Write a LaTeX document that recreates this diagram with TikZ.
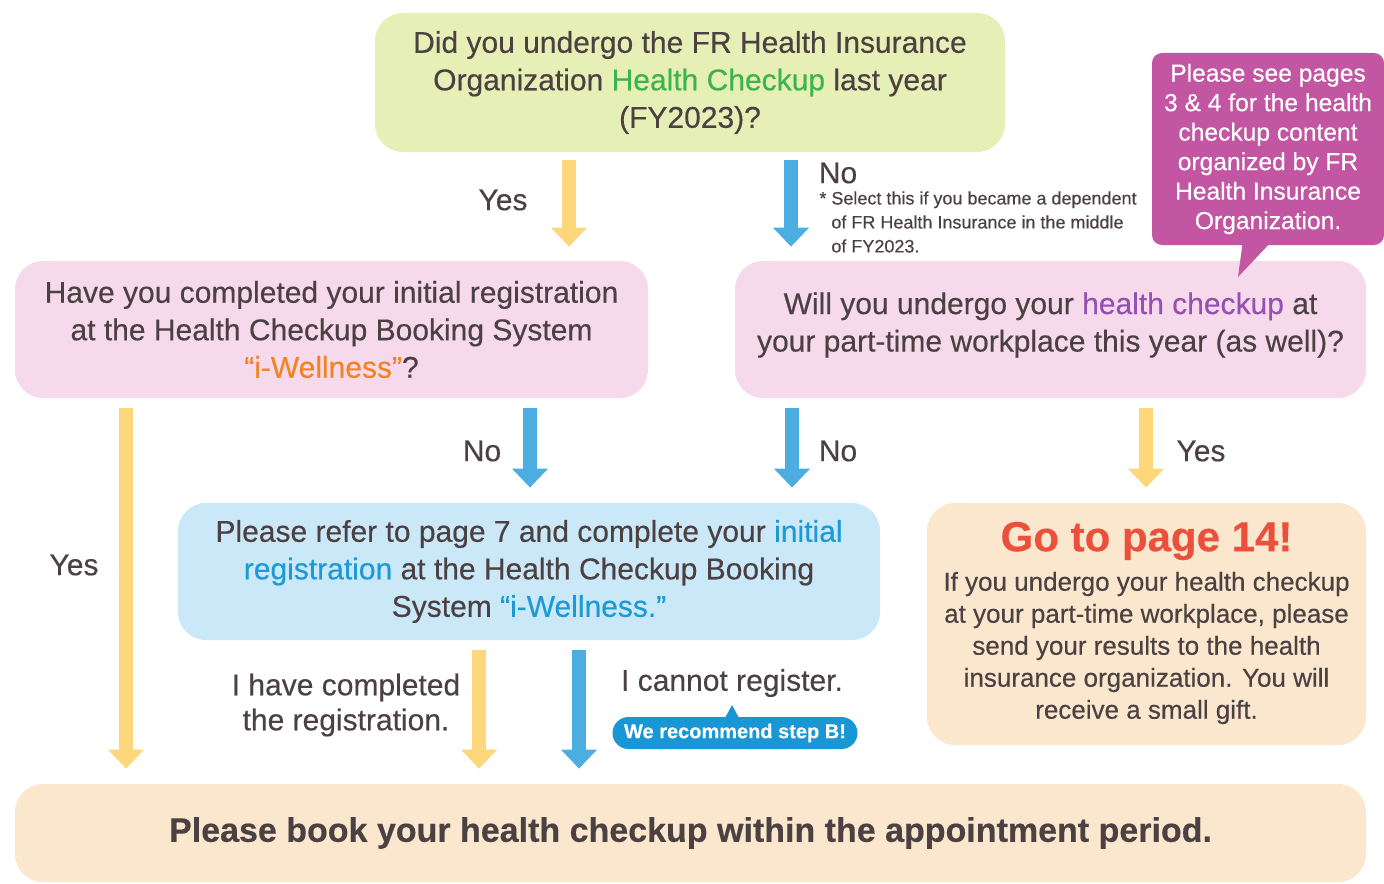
\documentclass[tikz,border=0pt]{standalone}
\usepackage{fontspec}
\setmainfont{Liberation Sans}[FakeBold=0.35]
\usepackage{xcolor}
\definecolor{ink}{RGB}{75,64,66}
\definecolor{greenPale}{RGB}{230,240,182}
\definecolor{pinkPale}{RGB}{246,218,236}
\definecolor{bluePale}{RGB}{202,232,247}
\definecolor{orangePale}{RGB}{251,230,206}
\definecolor{calloutMagenta}{RGB}{194,86,162}
\definecolor{arrowYellow}{RGB}{253,215,122}
\definecolor{arrowBlue}{RGB}{76,173,225}
\definecolor{badgeBlue}{RGB}{24,151,212}
\definecolor{checkGreen}{RGB}{60,180,75}
\definecolor{wellOrange}{RGB}{240,132,36}
\definecolor{checkPurple}{RGB}{150,80,180}
\definecolor{regBlue}{RGB}{28,154,214}
\definecolor{goRed}{RGB}{234,80,60}
\usepackage{tikz}
\usetikzlibrary{arrows.meta,shapes,calc,positioning}
\tikzstyle{box}=[rounded corners=14pt, inner sep=0pt, align=center,
                 text=ink, font=\fontsize{15}{18.75}\selectfont]
\tikzstyle{yesarrow}=[-{Triangle[width=17.5pt,length=9.5pt]},
                      line width=7pt, draw=arrowYellow]
\tikzstyle{noarrow}=[-{Triangle[width=17.5pt,length=9.5pt]},
                     line width=7pt, draw=arrowBlue]
\tikzstyle{answer}=[text=ink, inner sep=0pt,
                    font=\fontsize{15}{17.5}\selectfont]

\begin{document}
\begin{tikzpicture}[x=0.5pt,y=-0.5pt]
    \useasboundingbox (0,0) rectangle (1384,883);

    % question boxes
    \node (qtop) [box, fill=greenPale, minimum width=315pt, minimum height=69.5pt]
        at (690,82.5) {Did you undergo the FR Health Insurance\\
        Organization \textcolor{checkGreen}{Health Checkup} last year\\(FY2023)?};
    \node (qleft) [box, fill=pinkPale, minimum width=316.5pt, minimum height=68.5pt]
        at (331.5,329.5) {Have you completed your initial registration\\
        at the Health Checkup Booking System\\\textcolor{wellOrange}{“i-Wellness”}?};
    \node (qright) [box, fill=pinkPale, minimum width=315.5pt, minimum height=68.5pt]
        at (1050.5,329.5) {};
    \node (qrighttext) [box, align=center] at (1050.5,325)
        {Will you undergo your \textcolor{checkPurple}{health checkup} at\\
        your part-time workplace this year (as well)?};
    \node (qblue) [box, fill=bluePale, minimum width=351pt, minimum height=68.5pt]
        at (529,571.5) {Please refer to page 7 and complete your \textcolor{regBlue}{initial}\\
        \textcolor{regBlue}{registration} at the Health Checkup Booking\\
        System \textcolor{regBlue}{“i-Wellness.”}};
    \node (goto) [box, fill=orangePale, minimum width=219.5pt, minimum height=121pt]
        at (1146.5,624) {};
    \node (book) [box, fill=orangePale, minimum width=675.5pt, minimum height=49pt,
        font=\fontsize{17}{20}\selectfont\bfseries]
        at (690.5,833) {Please book your health checkup within the appointment period.};

    \node (gotitle) [text=goRed, font=\fontsize{21}{24}\selectfont\bfseries]
        at (1146.5,541) {Go to page 14!};
    \node (gobody) [text=ink, align=center, font=\fontsize{13}{16}\selectfont]
        at (1146.5,648) {If you undergo your health checkup\\
        at your part-time workplace, please\\send your results to the health\\
        insurance organization. You will\\receive a small gift.};

    % callout
    \node (callout) [rounded corners=5pt, fill=calloutMagenta, text=white, align=center,
        minimum width=116pt, minimum height=96pt, inner sep=0pt,
        font=\fontsize{12.3}{14.75}\selectfont] at (1268,149)
        {Please see pages\\3 \& 4 for the health\\checkup content\\organized by FR\\
        Health Insurance\\Organization.};
    \coordinate (ctip) at (1238,277);
    \fill[calloutMagenta] (1243,240) -- (ctip) -- (1273,240) -- cycle;

    % arrows
    \draw [yesarrow, shorten <=4pt, shorten >=7pt] (qtop.south -| 569,0) -- (qleft.north -| 569,0);
    \draw [noarrow, shorten <=4pt, shorten >=7pt] (qtop.south -| 791,0) -- (qright.north -| 791,0);
    \draw [yesarrow, shorten <=5pt, shorten >=7.5pt] (qleft.south -| 126,0) -- (book.north -| 126,0);
    \draw [noarrow, shorten <=5pt, shorten >=7.5pt] (qleft.south -| 530,0) -- (qblue.north -| 530,0);
    \draw [noarrow, shorten <=5pt, shorten >=7.5pt] (qright.south -| 792,0) -- (qblue.north -| 792,0);
    \draw [yesarrow, shorten <=5pt, shorten >=7.5pt] (qright.south -| 1146,0) -- (goto.north -| 1146,0);
    \draw [yesarrow, shorten <=5pt, shorten >=7.5pt] (qblue.south -| 479,0) -- (book.north -| 479,0);
    \draw [noarrow, shorten <=5pt, shorten >=7.5pt] (qblue.south -| 579,0) -- (book.north -| 579,0);

    % answers
    \node (yes1) [answer] at (503,200) {Yes};
    \node (no1) [answer] at (838,173) {No};
    \node (note1) [anchor=north west, align=left, text=ink, inner sep=0pt,
        font=\fontsize{9}{12}\selectfont] at (819,191)
        {* Select this if you became a dependent\\
        \phantom{*\ }of FR Health Insurance in the middle\\\phantom{*\ }of FY2023.};
    \node (yes2) [answer] at (74,565) {Yes};
    \node (no2) [answer] at (482,451) {No};
    \node (no3) [answer] at (838,451) {No};
    \node (yes3) [answer] at (1201,451) {Yes};
    \node (done) [answer, align=center] at (346,705) {I have completed\\the registration.};
    \node (cannot) [answer] at (732,683) {I cannot register.};

    % step B badge
    \node (stepb) [rounded corners=8pt, fill=badgeBlue, text=white, inner sep=0pt,
        minimum width=122.5pt, minimum height=16pt,
        font=\fontsize{10}{12}\selectfont\bfseries] at (735,733) {We recommend step B!};
    \fill[badgeBlue] (725,718) -- (732,705) -- (739,718) -- cycle;

\end{tikzpicture}
\end{document}
